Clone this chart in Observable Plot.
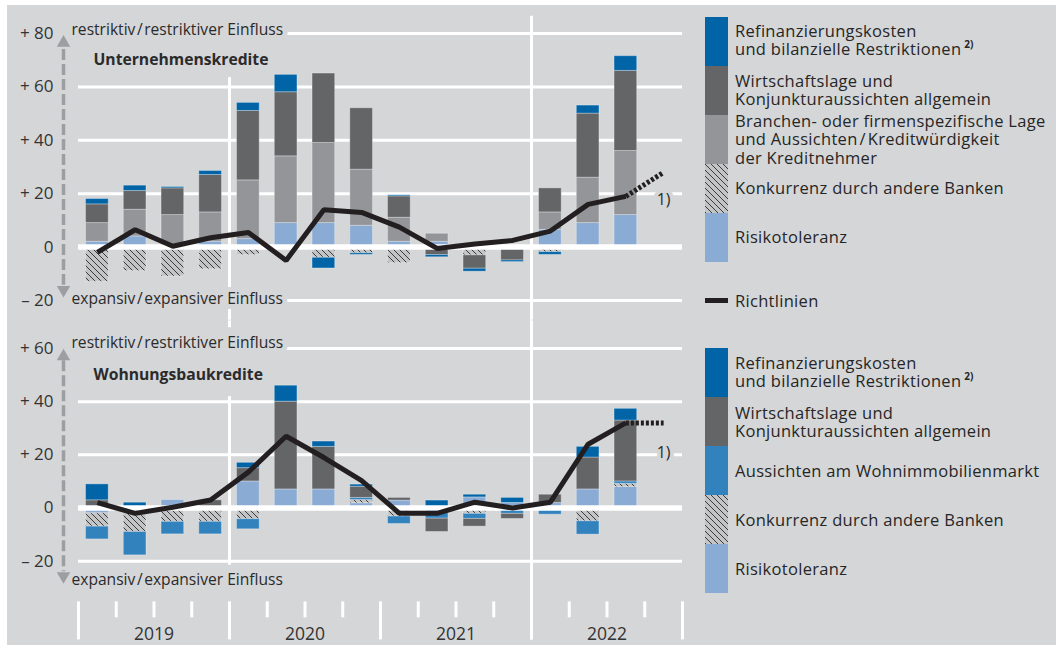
<!DOCTYPE html>
<html><head><meta charset="utf-8">
<script src="https://cdn.jsdelivr.net/npm/d3@7"></script>
<script src="https://cdn.jsdelivr.net/npm/@observablehq/plot@0.6"></script>
<style>
html,body{margin:0;padding:0;background:#fff;}
#wrap{position:relative;width:1056px;height:647px;overflow:hidden;font-family:"Open Sans",sans-serif;color:#262626;}
#bg{position:absolute;left:7px;top:5px;width:1049px;height:640px;background:#d5d6d8;}
#top,#bot{position:absolute;left:0;}
#top{top:0}
#bot{top:320px}
.leg{position:absolute;left:705px;}
.item{position:relative;height:49px;}
.sw{position:absolute;left:0;top:0;width:23px;height:49px;}
.lbl{position:absolute;left:30px;top:50%;transform:translateY(-50%);font-size:16.5px;letter-spacing:0.3px;line-height:18.3px;white-space:nowrap;}
.sup{font-size:10px;font-weight:700;position:relative;top:-7px;margin-left:3px;letter-spacing:0}
#rl{position:absolute;left:705px;top:297.5px;width:23px;height:5px;background:#231f20;}
#rlt{position:absolute;left:735px;top:300px;transform:translateY(-50%);font-size:16.5px;letter-spacing:0.3px;white-space:nowrap;}
</style></head>
<body>
<svg width="0" height="0" style="position:absolute">
<defs><pattern id="hatch" patternUnits="userSpaceOnUse" width="6" height="6">
<rect width="6" height="6" fill="#c3c4c6"/>
<path d="M-1,-1 L7,7 M-1,5 L1,7 M5,-1 L7,1" stroke="#3c3c3c" stroke-width="1"/>
</pattern></defs></svg>
<div id="wrap">
<div id="bg"></div>
<div id="top"></div>
<div id="bot"></div>
<div class="leg" id="legTop" style="top:16.7px"></div>
<div id="rl"></div><div id="rlt">Richtlinien</div>
<div class="leg" id="legBot" style="top:348.3px"></div>
</div>
<script>
// ---------- DATA ----------
const quarters = ["2019 Q1","2019 Q2","2019 Q3","2019 Q4","2020 Q1","2020 Q2","2020 Q3","2020 Q4",
                  "2021 Q1","2021 Q2","2021 Q3","2021 Q4","2022 Q1","2022 Q2","2022 Q3","2022 Q4"];
const years = ["2019","2020","2021","2022"];
const ticksU = [-20, 0, 20, 40, 60, 80];
const ticksW = [-20, 0, 20, 40, 60];

// Unternehmenskredite (2019 Q1 – 2022 Q3)
const uRisikotoleranz = [2, 4, 0, 2, 3, 9, 9, 8, 2, 2, 0, 0, 6.5, 9, 12];
const uKonkurrenz     = [-13, -9, -11, -8.3, -3, 0, -4, -2.3, -6, 0, -3.1, 0, -1.9, 0, 0];
const uBranchen       = [7, 10, 12, 11, 22, 25, 30, 21, 9, 3, 0, 0, 6.5, 17, 24];
const uWirtschaft     = [7, 7, 10, 14, 26, 24, 26, 23, 8, -3, -5, -5, 9, 24, 30];
const uRefinanzierung = [2, 2, 0.5, 1.5, 3, 6.5, -4, -0.6, 0.4, -0.8, -1.1, -0.6, -1, 3, 5.5];
const uRichtlinien    = [-2, 6.5, 0.3, 3.5, 5.5, -5, 14, 13, 7.5, -0.5, 1.2, 2.5, 6, 16, 19];
const uErwartung = 28; // 2022 Q4, expected

// Wohnungsbaukredite (2019 Q1 – 2022 Q3)
const wRisikotoleranz = [-2, 0, 3, 0, 10, 7, 7, 1.8, 2.8, 0, 4, 1.9, 1.9, 7, 7.9];
const wKonkurrenz     = [-5, -9, -5.2, -5.2, -4.2, 0, 0, 1.2, -3.2, 0, -2.2, 0, 0, -5, 1.2];
const wAussichten     = [-4.8, -8.8, -4.7, -4.7, -3.8, 0, 0, 0.8, -2.8, -4, -1.9, -2.2, -2.5, -5, 0.9];
const wWirtschaft     = [2.9, 0, 0, 2.9, 5, 33, 16, 4.2, 1, -5, -2.9, -1.9, 3.1, 12, 22.9];
const wRefinanzierung = [6, 2, 0, 0, 2, 6, 2, 0.8, 0, 2.8, 1, 1.9, 0, 4, 4.4];
const wRichtlinien    = [2, -2, 0.3, 3, 13.5, 27, 19, 10.3, -2, -2, 2.2, 0, 2.2, 24, 32];
const wErwartung = 32; // 2022 Q4, expected

// ---------- STYLE ----------
const BG = "#d5d6d8", TXT = "#2b2b2b", ARROW = "#9c9ea1";
const C = {risk: "#8aabd3", konk: "url(#hatch)", branch: "#939598", auss: "#3282be", wirt: "#646567", refi: "#0064a6"};
const FONT = "'Open Sans', sans-serif";

function stackRows(series) {
  const rows = [];
  const n = series[0].values.length;
  for (let i = 0; i < n; i++) {
    let pos = 0, neg = 0;
    for (const s of series) {
      const v = s.values[i];
      if (!v) continue;
      if (v > 0) { rows.push({i, key: s.key, y1: pos, y2: pos + v}); pos += v; }
      else { rows.push({i, key: s.key, y1: neg, y2: neg + v}); neg += v; }
    }
  }
  return rows;
}
const fmt = d => d > 0 ? "+\u00a0" + d : d < 0 ? "\u2013\u00a0" + (-d) : "0";

function panel(o) {
  const rows = stackRows(o.series);
  const keys = o.series.map(s => s.key);
  const lineData = o.line.map((v, i) => ({x: i + 0.5, v}));
  const last = o.line.length - 1;
  const expData = [{x: last + 0.5, v: o.line[last]}, {x: last + 1.5, v: o.expect}];
  const halo = {stroke: BG, strokeWidth: 10, paintOrder: "stroke", fill: TXT};
  const marks = [
    Plot.ruleY(o.ticks.filter(d => d !== 0), {y: d => d, stroke: "#fff", strokeWidth: 3}),
    Plot.ruleX(o.vlines, {x: "x", y1: "y1", y2: "y2", stroke: "#fff", strokeWidth: 3}),
    Plot.rect(rows, {x1: d => d.i + 0.2, x2: d => d.i + 0.8, y1: "y1", y2: "y2", fill: "key", stroke: "#ffffff", strokeOpacity: 0.3, strokeWidth: 1}),
    Plot.ruleY([0], {y: d => d, stroke: "#fff", strokeWidth: 5.5}),
    Plot.line(lineData, {x: "x", y: "v", stroke: "#231f20", strokeWidth: 5, strokeLinejoin: "miter", strokeLinecap: "butt"}),
    Plot.line(expData, {x: "x", y: "v", stroke: "#231f20", strokeWidth: 5, strokeDasharray: "3,2", strokeLinecap: "butt"}),
    Plot.text(["1)"], {x: last + 1.5, y: o.noteY, text: d => d, fontSize: 16, fontFamily: FONT, ...halo, strokeWidth: 8}),
    Plot.text(["restriktiv\u200a/\u200arestriktiver Einfluss"], {x: 0, dx: -7, y: o.restY, text: d => d, textAnchor: "start", fontSize: 15.6, fontFamily: FONT, ...halo}),
    Plot.text(["expansiv\u200a/\u200aexpansiver Einfluss"], {x: 0, dx: -7, y: o.expY, text: d => d, textAnchor: "start", fontSize: 15.6, fontFamily: FONT, ...halo}),
    Plot.text([o.title], {x: 0, dx: 15, y: o.titleY, text: d => d, textAnchor: "start", fontSize: 15.7, fontWeight: "bold", fontFamily: FONT, fill: TXT}),
    Plot.text(o.ticks, {x: 0, y: d => d, text: fmt, dx: -25, textAnchor: "end", fontSize: 17, fontFamily: FONT, fill: "#333"}),
    Plot.ruleX([0], {x: d => d, dx: -15, y1: o.arrow[1], y2: o.arrow[2], stroke: ARROW, strokeWidth: 3.5, strokeDasharray: "11,4"}),
    Plot.dot([0], {x: d => d, dx: -15, y: o.arrow[0], symbol: "triangle", r: 5, fill: ARROW, stroke: null}),
    Plot.dot([0], {x: d => d, dx: -15, y: o.arrow[3], symbol: "triangle", rotate: 180, r: 5, fill: ARROW, stroke: null})
  ];
  if (o.axis) {
    const qTicks = d3.range(quarters.length + 1);
    marks.push(
      Plot.ruleX(qTicks, {x: d => d, y1: -35.3, y2: d => d % 4 === 0 ? -49.6 : -41.3, stroke: "#fff", strokeWidth: 3}),
      Plot.text(years, {x: (d, i) => i * 4 + 2, y: -47.4, text: d => d, fontSize: 17.5, fontFamily: FONT, fill: "#333"})
    );
  }
  return Plot.plot({
    width: 700, height: o.height,
    marginLeft: 78, marginRight: 18, marginTop: o.mt, marginBottom: o.mb,
    x: {domain: [0, quarters.length], axis: null},
    y: {domain: o.domain, axis: null},
    color: {type: "ordinal", domain: keys, range: keys.map(k => C[k])},
    style: {background: "transparent", overflow: "visible", fontFamily: FONT},
    marks
  });
}

document.getElementById("top").append(panel({
  series: [
    {key: "risk", values: uRisikotoleranz},
    {key: "konk", values: uKonkurrenz},
    {key: "branch", values: uBranchen},
    {key: "wirt", values: uWirtschaft},
    {key: "refi", values: uRefinanzierung}
  ],
  line: uRichtlinien, expect: uErwartung, ticks: ticksU, domain: [-20, 80],
  height: 320, mt: 33, mb: 20,
  vlines: [{x: 4, y1: 63.5, y2: -27.4}, {x: 12, y1: 86.5, y2: -27.4}],
  noteY: 17.6, restY: 81.2, expY: -19.5, title: "Unternehmenskredite", titleY: 70,
  arrow: [76.5, 74, -14.3, -16], axis: false
}));

document.getElementById("bot").append(panel({
  series: [
    {key: "risk", values: wRisikotoleranz},
    {key: "konk", values: wKonkurrenz},
    {key: "auss", values: wAussichten},
    {key: "wirt", values: wWirtschaft},
    {key: "refi", values: wRefinanzierung}
  ],
  line: wRichtlinien, expect: wErwartung, ticks: ticksW, domain: [-20, 60],
  height: 327, mt: 28, mb: 86.3,
  vlines: [{x: 4, y1: 70.4, y2: 67.8}, {x: 4, y1: 41.9, y2: -21.5}, {x: 12, y1: 70.4, y2: -49.6}],
  noteY: 20.7, restY: 61.9, expY: -27.1, title: "Wohnungsbaukredite", titleY: 50.2,
  arrow: [57, 55.4, -24, -25.6], axis: true
}));

// ---------- LEGENDS ----------
function legend(el, items) {
  for (const it of items) {
    const d = document.createElement("div");
    d.className = "item";
    d.innerHTML = `<svg class="sw" width="23" height="49"><rect width="23" height="49" fill="${C[it.key]}"/></svg><div class="lbl">${it.html}</div>`;
    el.append(d);
  }
}
const refiTxt = "Refinanzierungskosten<br>und bilanzielle Restriktionen<span class=\"sup\">2)</span>";
const wirtTxt = "Wirtschaftslage und<br>Konjunkturaussichten allgemein";
legend(document.getElementById("legTop"), [
  {key: "refi", html: refiTxt},
  {key: "wirt", html: wirtTxt},
  {key: "branch", html: "Branchen- oder firmenspezifische Lage<br>und Aussichten\u200a/\u200aKreditwürdigkeit<br>der Kreditnehmer"},
  {key: "konk", html: "Konkurrenz durch andere Banken"},
  {key: "risk", html: "Risikotoleranz"}
]);
legend(document.getElementById("legBot"), [
  {key: "refi", html: refiTxt},
  {key: "wirt", html: wirtTxt},
  {key: "auss", html: "Aussichten am Wohnimmobilienmarkt"},
  {key: "konk", html: "Konkurrenz durch andere Banken"},
  {key: "risk", html: "Risikotoleranz"}
]);
</script>
</body></html>
